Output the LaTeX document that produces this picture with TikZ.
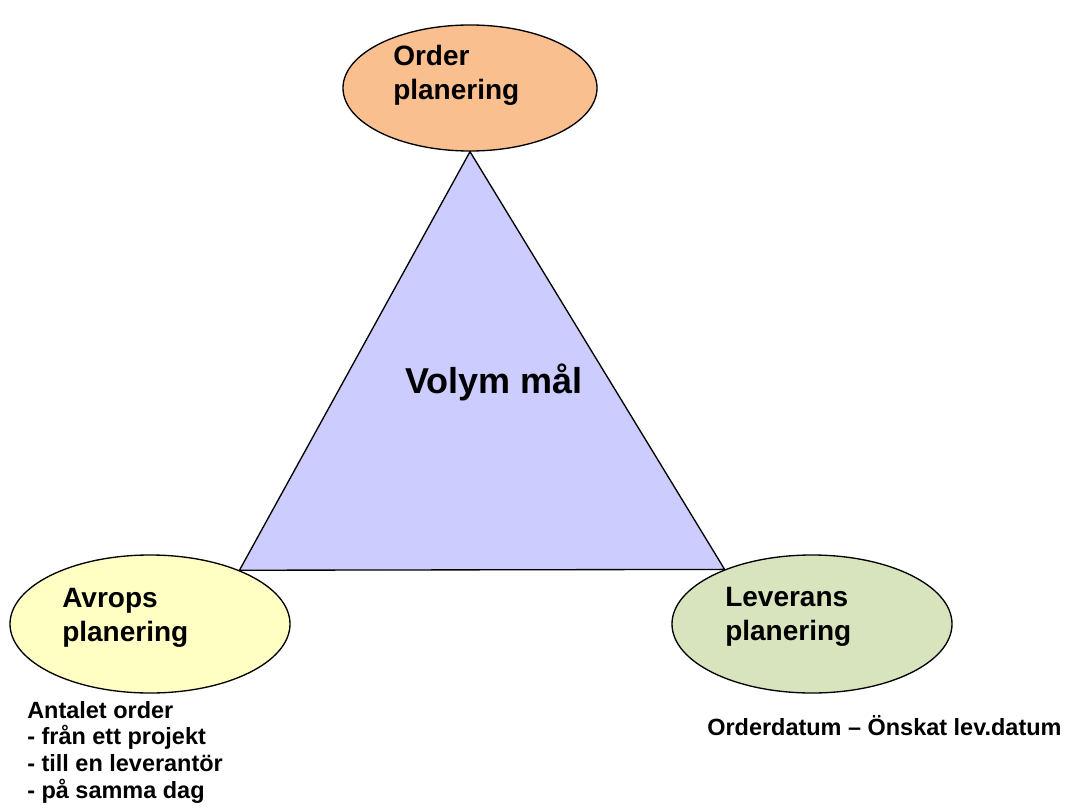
\documentclass[tikz,border=0pt]{standalone}
\usepackage{fontspec}
\setmainfont{Liberation Sans}
\usetikzlibrary{shapes.geometric}
\usetikzlibrary{backgrounds}
\definecolor{ordfill}{HTML}{FABF8F}
\definecolor{avrfill}{HTML}{FFFFC4}
\definecolor{levfill}{HTML}{D7E4BD}
\definecolor{trifill}{HTML}{CCCCFF}
\tikzset{oval/.style = {draw, ellipse, inner sep=0, line width=1pt}}
\tikzset{bigtxt/.style = {anchor=base west, inner sep=0, align=left,
                          font=\bfseries\fontsize{21}{25.5}\selectfont}}
\tikzset{smalltxt/.style = {anchor=base west, inner sep=0, align=left,
                            font=\bfseries\fontsize{17.6}{20}\selectfont}}

\begin{document}
\begin{tikzpicture}[x=0.75pt, y=-0.75pt]
      \useasboundingbox (0,0) rectangle (1077,809);
      \node[oval, fill=ordfill, minimum width=190.5pt, minimum height=94.5pt] (ord) at (470,88) {};
      \node[oval, fill=avrfill, minimum width=210pt, minimum height=103.5pt] (avr) at (150,624) {};
      \node[oval, fill=levfill, minimum width=210pt, minimum height=103.5pt] (lev) at (812,624) {};
      \begin{scope}[on background layer]
        \draw[fill=trifill, line width=1pt] (ord.south) -- (avr.31.5) -- (lev.148.5) -- cycle;
      \end{scope}
      \node[bigtxt] (ordtxt) at (393,100) {Order\\planering};
      \node[bigtxt] (avrtxt) at (62,641) {Avrops\\planering};
      \node[bigtxt] (levtxt) at (725,640) {Leverans\\planering};
      \node[anchor=base west, inner sep=0, font=\bfseries\fontsize{27}{32}\selectfont] (volym) at (405,393) {Volym mål};
      \node[smalltxt] (antal) at (27,798) {Antalet order\\- från ett projekt\\- till en leverantör\\- på samma dag};
      \node[smalltxt] (datum) at (707,735) {Orderdatum – Önskat lev.datum};
    \end{tikzpicture}
\end{document}
